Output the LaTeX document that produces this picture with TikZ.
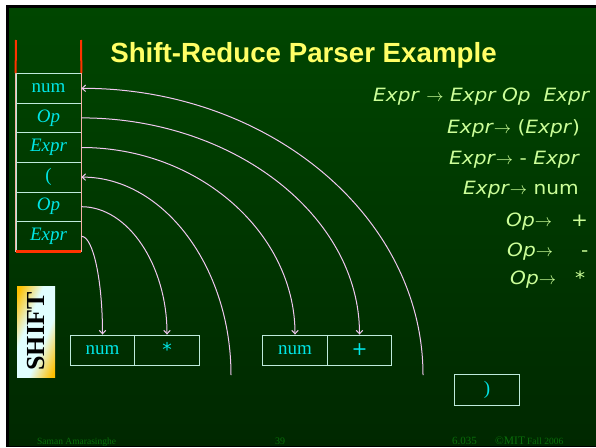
\documentclass[tikz,border=0pt]{standalone}
\usepackage{fontspec}
\setmainfont{Liberation Serif}
\newfontfamily\titlefont{Liberation Sans}
\newfontfamily\gramfont[FakeStretch=1.1, ItalicFont={DejaVu Sans Oblique}]{DejaVu Sans}
\newfontfamily\symfont{DejaVu Sans}
\usetikzlibrary{arrows.meta,calc,shadings}

\definecolor{bgtop}{RGB}{0,70,0}
\definecolor{bgbot}{RGB}{0,40,0}
\definecolor{titleyel}{RGB}{255,255,102}
\definecolor{gram}{RGB}{204,255,153}
\definecolor{cyantxt}{RGB}{0,230,230}
\definecolor{boxline}{RGB}{190,235,220}
\definecolor{stackred}{RGB}{255,51,0}
\definecolor{stackside}{RGB}{245,175,165}
\definecolor{arcpink}{RGB}{240,200,240}
\definecolor{footgreen}{RGB}{10,110,10}
\definecolor{shiftgold}{RGB}{255,192,0}
\definecolor{shiftpale}{RGB}{225,255,255}

% gold corners, pale diagonal band
\pgfdeclareverticalshading{shiftshade}{100bp}{color(0bp)=(shiftgold); color(20bp)=(shiftgold);
  color(40bp)=(shiftpale); color(60bp)=(shiftpale); color(80bp)=(shiftgold); color(100bp)=(shiftgold)}

\tikzset{
  cell/.style={draw=boxline, line width=0.8pt, minimum width=65pt, minimum height=29.6pt,
    inner sep=0pt, text=cyantxt, font=\fontsize{19}{19}\selectfont},
  slot/.style={draw=boxline, line width=0.9pt, minimum width=64.5pt, minimum height=30pt,
    inner sep=0pt, text=cyantxt, font=\fontsize{19}{19}\selectfont},
  arc/.style={draw=arcpink, line width=1pt, >={Straight Barb[length=3.5pt,width=6.5pt]}},
  gramrow/.style={anchor=base west, inner sep=0pt, text=gram,
    font=\gramfont\fontsize{18.3}{20}\selectfont},
  foot/.style={anchor=base west, inner sep=0pt, text=footgreen},
}

\begin{document}
\begin{tikzpicture}[x=1pt, y=-1pt]
  % page frame and background
  \fill[white] (0,0) rectangle (596,447);
  \useasboundingbox (0,0) rectangle (596,447);
  \fill[black] (6,5) rectangle (596,447);
  \shade[top color=bgtop, bottom color=bgbot] (9,8) rectangle (596,445.5);

  % title
  \node[font=\titlefont\bfseries\fontsize{27.7}{30}\selectfont, text=titleyel, anchor=base, inner sep=0pt]
    (title) at (303.5,62) {Shift-Reduce Parser Example};

  % parser stack
  \node[cell] (s1) at (48.5,88.3) {num};
  \node[cell] (s2) at (48.5,117.9) {\textit{Op}};
  \node[cell] (s3) at (48.5,147.5) {\textit{Expr}};
  \node[cell] (s4) at (48.5,177.1) {(};
  \node[cell] (s5) at (48.5,206.7) {\textit{Op}};
  \node[cell] (s6) at (48.5,236.3) {\textit{Expr}};
  \coordinate (topL) at (16,40);
  \coordinate (topR) at (81,40);
  \draw[stackside, line width=0.8pt] (s1.north west) -- (s6.south west);
  \draw[stackside, line width=0.8pt] (s1.north east) -- (s6.south east);
  \draw[stackred, line width=2pt] (topL) -- (s1.north west);
  \draw[stackred, line width=2pt] (topR) -- (s1.north east);
  \draw[stackred, line width=3.2pt] (s6.south west) -- (s6.south east);

  % SHIFT label
  \node[shading=shiftshade, shading angle=67,
        minimum width=38pt, minimum height=91pt, inner sep=0pt] (shiftbox) at (36,331.5) {};
  \node[rotate=90, font=\bfseries\fontsize{26}{26}\selectfont, text=black, inner sep=0pt]
    (shift) at (shiftbox.center) {SHIFT};

  % input tokens
  \node[slot] (b1) at (102.5,350) {num};
  \node[slot] (b2) at (167,350) {\raisebox{2pt}{\symfont *}};
  \node[slot] (b3) at (295,350) {num};
  \node[slot] (b4) at (359.5,350) {\symfont +};
  \node[slot, minimum height=31pt] (b5) at (487,389.5) {)};

  % shift / reduce arcs
  \coordinate (e1) at (423,375);
  \coordinate (e4) at (231,375);
  \draw[arc,<-] (s1.east) .. controls ($(s1.east)+(188,0)$) and ($(e1)+(0,-158)$) .. (e1);
  \draw[arc,->] (s2.east) .. controls ($(s2.east)+(153,0)$) and ($(b4.north)+(0,-118)$) .. (b4.north);
  \draw[arc,->] (s3.east) .. controls ($(s3.east)+(118,0)$) and ($(b3.north)+(0,-101)$) .. (b3.north);
  \draw[arc,<-] (s4.east) .. controls ($(s4.east)+(82,0)$) and ($(e4)+(0,-108)$) .. (e4);
  \draw[arc,->] (s5.east) .. controls ($(s5.east)+(47,0)$) and ($(b2.north)+(0,-69)$) .. (b2.north);
  \draw[arc,->] (s6.east) .. controls ($(s6.east)+(12,0)$) and ($(b1.north)+(0,-53)$) .. (b1.north);

  % grammar
  \node[gramrow] (g1) at (373,101.5) {\textit{Expr} $\rightarrow$ \textit{Expr Op}\ \ \textit{Expr}};
  \node[gramrow] (g2) at (447,133.5) {\textit{Expr}$\rightarrow$\ (\textit{Expr})};
  \node[gramrow] (g3) at (449,164.5) {\textit{Expr}$\rightarrow$\ - \textit{Expr}};
  \node[gramrow] (g4) at (463,194.5) {\textit{Expr}$\rightarrow$\ num};
  \node[gramrow] (g5) at (506,226) {\textit{Op}$\rightarrow$\hspace{19pt}+};
  \node[gramrow] (g6) at (507,256) {\textit{Op}$\rightarrow$\hspace{28pt}-};
  \node[gramrow] (g7) at (510,284.5) {\textit{Op}$\rightarrow$\hspace{19pt}*};

  % footer
  \node[foot, font=\fontsize{9.5}{10}\selectfont] (f1) at (37,444.5) {Saman Amarasinghe};
  \node[foot, font=\fontsize{10}{10}\selectfont] (f2) at (275,444.5) {39};
  \node[foot, font=\fontsize{11}{11}\selectfont] (f3) at (452,444.5) {6.035};
  \node[foot, font=\fontsize{11.5}{11}\selectfont] (f4) at (495,444.5) {©MIT};
  \node[foot, font=\fontsize{9.5}{10}\selectfont] (f5) at (527,444.5) {Fall 2006};
\end{tikzpicture}
\end{document}
